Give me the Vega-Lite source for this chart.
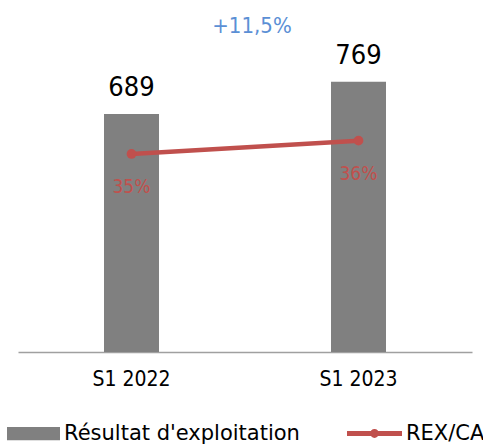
{
  "$schema": "https://vega.github.io/schema/vega-lite/v6.json",
  "autosize": "none",
  "width": 454,
  "height": 313,
  "padding": {"left": 18, "top": 39, "right": 11, "bottom": 95},
  "background": "white",
  "config": {
    "view": {"stroke": null},
    "font": "DejaVu Sans Condensed"
  },
  "title": {
    "text": "+11,5%",
    "color": "#5b8fd5",
    "fontSize": 22,
    "fontWeight": "normal",
    "font": "DejaVu Sans Condensed",
    "anchor": "middle",
    "dx": 7,
    "baseline": "alphabetic",
    "offset": -16
  },
  "data": {
    "values": [
      {"periode": "S1 2022", "rex": 689, "marge": 0.35, "rexLabel": "689", "margeLabel": "35%"},
      {"periode": "S1 2023", "rex": 769, "marge": 0.36, "rexLabel": "769", "margeLabel": "36%"}
    ]
  },
  "encoding": {
    "x": {
      "field": "periode",
      "type": "nominal",
      "sort": null,
      "scale": {"paddingInner": 0, "paddingOuter": 0},
      "axis": {
        "title": null,
        "labelAngle": 0,
        "labelFontSize": 21,
        "labelColor": "#000000",
        "labelFont": "DejaVu Sans Condensed",
        "labelPadding": 16,
        "ticks": false,
        "domainColor": "#a0a0a0",
        "domainWidth": 1.5,
        "grid": false
      }
    }
  },
  "layer": [
    {
      "layer": [
        {
          "mark": {"type": "bar", "width": 55, "clip": true},
          "encoding": {
            "y": {"field": "rex", "type": "quantitative", "scale": {"domain": [100, 875], "zero": false, "nice": false}, "axis": null},
            "fill": {
              "datum": "Résultat d'exploitation",
              "scale": {"range": ["#808080"]},
              "legend": {
                "title": null,
                "orient": "none",
                "legendX": -11,
                "legendY": 368,
                "padding": 0,
                "symbolType": "M-1,-0.25H1V0.25H-1Z",
                "symbolSize": 2809,
                "symbolStrokeWidth": 0,
                "labelFontSize": 21,
                "labelFont": "DejaVu Sans",
                "labelColor": "#000000",
                "labelOffset": 4,
                "labelLimit": 400
              }
            }
          }
        },
        {
          "mark": {"type": "text", "baseline": "alphabetic", "dy": -18, "fontSize": 27, "color": "#000000"},
          "encoding": {
            "y": {"field": "rex", "type": "quantitative"},
            "text": {"field": "rexLabel"}
          }
        }
      ]
    },
    {
      "layer": [
        {
          "mark": {"type": "line", "strokeWidth": 4.5},
          "encoding": {
            "y": {"field": "marge", "type": "quantitative", "scale": {"domain": [0.2011, 0.4364], "zero": false, "nice": false}, "axis": null},
            "stroke": {
              "datum": "REX/CA",
              "scale": {"range": ["#c0504d"]},
              "legend": {
                "title": null,
                "orient": "none",
                "legendX": 329,
                "legendY": 367,
                "padding": 0,
                "symbolType": "M-1,-0.09H1V0.09H-1Z M0.16,0 A0.16,0.16 0 1,1 -0.16,0 A0.16,0.16 0 1,1 0.16,0Z",
                "symbolSize": 3025,
                "symbolFillColor": "#c0504d",
                "symbolStrokeWidth": 0,
                "labelFontSize": 21,
                "labelFont": "DejaVu Sans",
                "labelColor": "#000000",
                "labelOffset": 4,
                "labelLimit": 400
              }
            }
          }
        },
        {
          "mark": {"type": "point", "filled": true, "size": 95, "color": "#c0504d", "opacity": 1},
          "encoding": {
            "y": {"field": "marge", "type": "quantitative"}
          }
        },
        {
          "mark": {"type": "text", "baseline": "alphabetic", "dy": 39, "fontSize": 19, "color": "#c0504d"},
          "encoding": {
            "y": {"field": "marge", "type": "quantitative"},
            "text": {"field": "margeLabel"}
          }
        }
      ]
    }
  ],
  "resolve": {"scale": {"y": "independent"}}
}
